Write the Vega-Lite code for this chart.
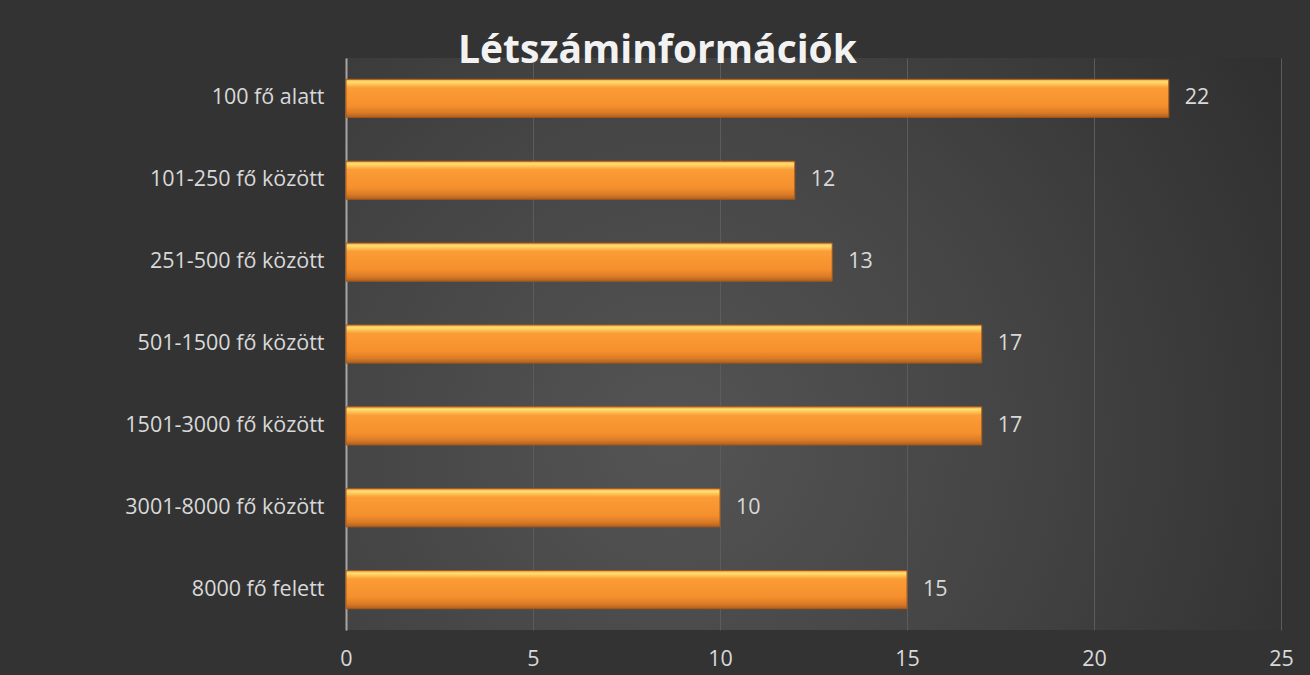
{
  "$schema": "https://vega.github.io/schema/vega-lite/v6.json",
  "width": 935,
  "height": 572,
  "autosize": {"type": "none"},
  "padding": {"left": 346, "top": 58, "right": 29, "bottom": 45},
  "background": "#333333",
  "config": {
    "view": {
      "stroke": null,
      "fill": {
        "gradient": "radial",
        "x1": 0.35, "y1": 0.6, "r1": 0,
        "x2": 0.35, "y2": 0.6, "r2": 0.75,
        "stops": [
          {"offset": 0, "color": "#545454"},
          {"offset": 0.5, "color": "#444444"},
          {"offset": 1, "color": "#303030"}
        ]
      }
    },
    "font": "Open Sans"
  },
  "title": {
    "text": "Létszáminformációk",
    "font": "Open Sans",
    "fontSize": 39,
    "fontWeight": "bold",
    "color": "#f2f2f2",
    "anchor": "middle",
    "frame": "group",
    "dx": -156,
    "baseline": "alphabetic",
    "offset": -44
  },
  "data": {
    "values": [
      {"kategoria": "100 fő alatt", "ertek": 22},
      {"kategoria": "101-250 fő között", "ertek": 12},
      {"kategoria": "251-500 fő között", "ertek": 13},
      {"kategoria": "501-1500 fő között", "ertek": 17},
      {"kategoria": "1501-3000 fő között", "ertek": 17},
      {"kategoria": "3001-8000 fő között", "ertek": 10},
      {"kategoria": "8000 fő felett", "ertek": 15}
    ]
  },
  "encoding": {
    "y": {
      "field": "kategoria",
      "type": "nominal",
      "sort": null,
      "title": null,
      "scale": {"paddingInner": 0.535, "paddingOuter": 0.26},
      "axis": {
        "domainColor": "#a6a6a6",
        "domainWidth": 2,
        "ticks": false,
        "labelColor": "#d9d9d9",
        "labelFontSize": 21.5,
        "labelPadding": 22,
        "labelLimit": 400,
        "labelFont": "Open Sans"
      }
    },
    "x": {
      "field": "ertek",
      "type": "quantitative",
      "title": null,
      "scale": {"domain": [0, 25], "nice": false},
      "axis": {
        "values": [0, 5, 10, 15, 20, 25],
        "domain": false,
        "ticks": false,
        "gridColor": "#5c5c5c",
        "gridWidth": 1,
        "labelColor": "#d9d9d9",
        "labelFontSize": 21.5,
        "labelPadding": 18,
        "labelFont": "Open Sans",
        "labelFlush": false
      }
    }
  },
  "layer": [
    {
      "mark": {
        "type": "bar",
        "stroke": "#a65a1a",
        "strokeWidth": 1,
        "fill": {
          "gradient": "linear",
          "x1": 0, "y1": 0, "x2": 0, "y2": 1,
          "stops": [
            {"offset": 0, "color": "#f6a445"},
            {"offset": 0.07, "color": "#ffdf70"},
            {"offset": 0.22, "color": "#fb9d36"},
            {"offset": 0.7, "color": "#f58f2d"},
            {"offset": 0.88, "color": "#d97a26"},
            {"offset": 1, "color": "#b0601d"}
          ]
        }
      }
    },
    {
      "mark": {
        "type": "text",
        "align": "left",
        "baseline": "middle",
        "dx": 16,
        "fontSize": 21.5,
        "font": "Open Sans",
        "color": "#d9d9d9"
      },
      "encoding": {"text": {"field": "ertek", "type": "quantitative"}}
    }
  ]
}
